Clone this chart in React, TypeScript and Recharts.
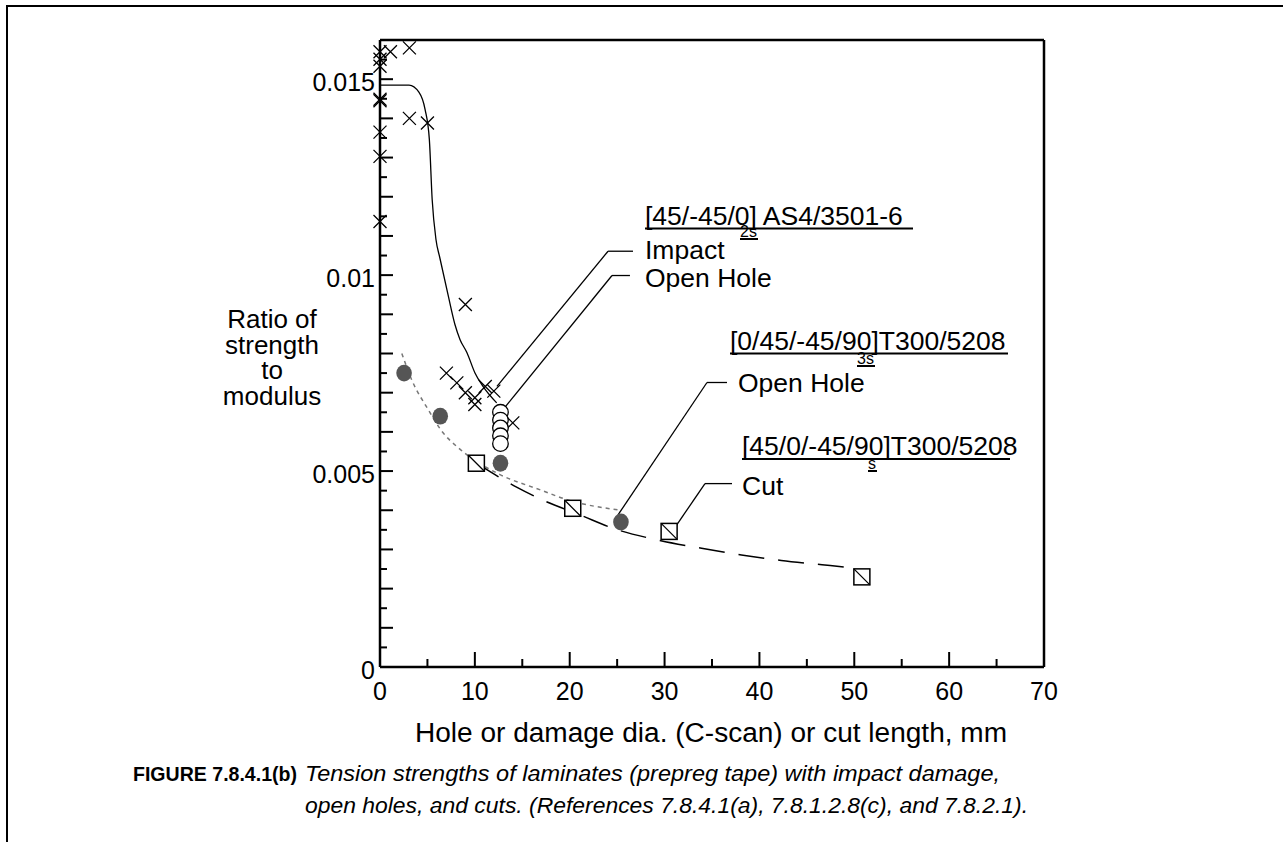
import React from 'react';
import { ComposedChart, Line, Scatter, XAxis, YAxis, ReferenceLine } from 'recharts';

// [45/-45/0]2s AS4/3501-6, impact (x marks)
const IMPACT_X = [0, 1.1, 3.1, 0, 0, 0, 0, 3.1, 5.0, 0, 0, 0, 9.0, 7.0, 8.1, 9.0, 10.0, 10.0, 11.1, 12.0, 14.0];
const IMPACT_Y = [0.0157, 0.0157, 0.0158, 0.01551, 0.01533, 0.01449, 0.01445, 0.014, 0.01388, 0.01365, 0.01303, 0.01137, 0.00925, 0.0075, 0.00725, 0.007, 0.00687, 0.0067, 0.00716, 0.00704, 0.00623];

// [45/-45/0]2s AS4/3501-6, open hole (open circles)
const AS4_HOLE_X = [12.7, 12.7, 12.7, 12.7, 12.7];
const AS4_HOLE_Y = [0.0065, 0.0063, 0.0061, 0.0059, 0.0057];

// [0/45/-45/90]3s T300/5208, open hole (filled circles)
const T300_HOLE_X = [2.54, 6.35, 12.7, 25.4];
const T300_HOLE_Y = [0.0075, 0.0064, 0.0052, 0.0037];

// [45/0/-45/90]s T300/5208, cut (squares)
const CUT_X = [10.16, 20.32, 30.48, 50.8];
const CUT_Y = [0.0052, 0.00405, 0.00346, 0.0023];

// curves
const IMPACT_FIT_X = [0, 3.06, 4.1, 4.75, 5.2, 5.5, 5.9, 6.3, 7.17, 7.9, 8.43, 9.17, 10.0, 10.86, 12.3];
const IMPACT_FIT_Y = [0.01485, 0.01485, 0.01467, 0.01423, 0.01347, 0.01193, 0.01091, 0.01045, 0.0095, 0.00874, 0.00836, 0.00802, 0.00751, 0.00716, 0.00674];

const T300_FIT_X = [2.3, 3.34, 5.0, 6.67, 8.08, 9.14, 12.65, 16.9, 19.7, 25.4];
const T300_FIT_Y = [0.008, 0.00733, 0.0066, 0.00597, 0.00563, 0.00542, 0.00491, 0.00452, 0.00427, 0.004];

const CUT_FIT_X = [10.16, 14.4, 17.05, 21.1, 24.8, 29.5, 33.9, 38.1, 42.3, 46.6, 50.1];
const CUT_FIT_Y = [0.0052, 0.00459, 0.00427, 0.00388, 0.00352, 0.00323, 0.00303, 0.00286, 0.00272, 0.00261, 0.00252];

// axis ticks
const X_TICKS = [0, 5, 10, 15, 20, 25, 30, 35, 40, 45, 50, 55, 60, 65, 70];
const Y_TICKS = [0, 0.0005, 0.001, 0.0015, 0.002, 0.0025, 0.003, 0.0035, 0.004, 0.0045, 0.005, 0.0055, 0.006, 0.0065, 0.007, 0.0075, 0.008, 0.0085, 0.009, 0.0095, 0.01, 0.0105, 0.011, 0.0115, 0.012, 0.0125, 0.013, 0.0135, 0.014, 0.0145, 0.015, 0.0155];
const Y_LABEL_VALUES = [0, 0.005, 0.01, 0.015];
const Y_LABEL_TEXT = ['0', '0.005', '0.01', '0.015'];

// leader lines (data coordinates)
const LEADERS = [
  [{ x: 12.33, y: 0.00716 }, { x: 24.04, y: 0.01061 }, { x: 26.67, y: 0.01061 }],
  [{ x: 12.97, y: 0.00657 }, { x: 24.46, y: 0.00999 }, { x: 26.35, y: 0.00999 }],
  [{ x: 25.09, y: 0.00388 }, { x: 34.47, y: 0.00726 }, { x: 36.58, y: 0.00726 }],
  [{ x: 30.78, y: 0.00345 }, { x: 34.26, y: 0.00468 }, { x: 37.11, y: 0.00468 }],
];

const FONT = "'Liberation Sans', Arial, Helvetica, sans-serif";

const toPoints = (xs: number[], ys: number[]) => xs.map((x, i) => ({ x, y: ys[i] }));

const isMajorX = (v: number) => Math.round(v) % 10 === 0;
const isMajorY = (v: number) => Math.round(v * 10000) % 10 === 0;
const yLabel = (v: number) => {
  const i = Y_LABEL_VALUES.findIndex((l) => Math.abs(l - v) < 1e-9);
  return i >= 0 ? Y_LABEL_TEXT[i] : null;
};

const BottomTick = (p: any) => {
  const v = p.payload.value;
  const major = isMajorX(v);
  return (
    <g>
      <line x1={p.x} y1={p.y} x2={p.x} y2={p.y - (major ? 15 : 8)} stroke="#000" strokeWidth={2} />
      {major && (
        <text x={p.x} y={p.y + 33} textAnchor="middle" fontSize={25} fontFamily={FONT} fill="#000">{v}</text>
      )}
    </g>
  );
};

const TopTick = (p: any) => {
  const major = isMajorX(p.payload.value);
  return <line x1={p.x} y1={p.y} x2={p.x} y2={p.y + (major ? 15 : 8)} stroke="#000" strokeWidth={2} />;
};

const LeftTick = (p: any) => {
  const v = p.payload.value;
  const major = isMajorY(v);
  const label = yLabel(v);
  return (
    <g>
      <line x1={p.x} y1={p.y} x2={p.x + (major ? 13 : 7)} y2={p.y} stroke="#000" strokeWidth={2} />
      {label && (
        <text x={p.x - 5} y={p.y + 12} textAnchor="end" fontSize={25} fontFamily={FONT} fill="#000">{label}</text>
      )}
    </g>
  );
};

const RightTick = (p: any) => {
  const major = isMajorY(p.payload.value);
  return <line x1={p.x} y1={p.y} x2={p.x - (major ? 14 : 7)} y2={p.y} stroke="#000" strokeWidth={2} />;
};

const CrossMark = (p: any) => {
  const s = 6.5;
  return (
    <path
      d={`M${p.cx - s},${p.cy - s}L${p.cx + s},${p.cy + s}M${p.cx - s},${p.cy + s}L${p.cx + s},${p.cy - s}`}
      stroke="#000"
      strokeWidth={1.3}
      fill="none"
    />
  );
};

const OpenCircle = (p: any) => <circle cx={p.cx} cy={p.cy} r={7.8} fill="#fff" stroke="#000" strokeWidth={1.3} />;

const FilledCircle = (p: any) => <ellipse cx={p.cx} cy={p.cy} rx={7.8} ry={8.4} fill="#555" />;

const SlashSquare = (p: any) => {
  const h = 8;
  return (
    <g>
      <rect x={p.cx - h} y={p.cy - h} width={2 * h} height={2 * h} fill="#fff" stroke="#000" strokeWidth={1.5} />
      <line x1={p.cx - h} y1={p.cy - h} x2={p.cx + h} y2={p.cy + h} stroke="#000" strokeWidth={1.3} />
    </g>
  );
};

const W = 1283;
const H = 842;
const AXIS_W = 60;
const AXIS_H = 30;

export default function App() {
  return (
    <div style={{ position: 'absolute', left: 0, top: 0, width: W, height: H, overflow: 'hidden', background: '#fff' }}>
      <div
        style={{
          position: 'absolute',
          left: 6,
          top: 5,
          width: W,
          height: H,
          borderTop: '2.5px solid #000',
          borderLeft: '2.5px solid #000',
        }}
      />
      <ComposedChart
        width={W}
        height={H}
        margin={{ top: 40 - AXIS_H, left: 380 - AXIS_W, right: W - 1044 - AXIS_W, bottom: H - 667 - AXIS_H }}
        style={{ position: 'absolute', left: 0, top: 0 }}
      >
        <XAxis
          xAxisId="b"
          dataKey="x"
          type="number"
          domain={[0, 70]}
          ticks={X_TICKS}
          interval={0}
          height={AXIS_H}
          tickSize={0}
          tickMargin={0}
          tickLine={false}
          tick={BottomTick}
          axisLine={{ stroke: '#000', strokeWidth: 2.5 }}
        />
        <XAxis
          xAxisId="t"
          orientation="top"
          dataKey="x"
          type="number"
          domain={[0, 70]}
          ticks={X_TICKS}
          interval={0}
          height={AXIS_H}
          tickSize={0}
          tickMargin={0}
          tickLine={false}
          tick={TopTick}
          axisLine={{ stroke: '#000', strokeWidth: 2.5 }}
        />
        <YAxis
          yAxisId="l"
          dataKey="y"
          type="number"
          domain={[0, 0.016]}
          ticks={Y_TICKS}
          interval={0}
          width={AXIS_W}
          tickSize={0}
          tickMargin={0}
          tickLine={false}
          tick={LeftTick}
          axisLine={{ stroke: '#000', strokeWidth: 2.5 }}
        />
        <YAxis
          yAxisId="r"
          orientation="right"
          dataKey="y"
          type="number"
          domain={[0, 0.016]}
          ticks={Y_TICKS}
          interval={0}
          width={AXIS_W}
          tickSize={0}
          tickMargin={0}
          tickLine={false}
          tick={RightTick}
          axisLine={{ stroke: '#000', strokeWidth: 2.5 }}
        />

        <Line
          xAxisId="b"
          yAxisId="l"
          data={toPoints(IMPACT_FIT_X, IMPACT_FIT_Y)}
          dataKey="y"
          type="monotone"
          stroke="#000"
          strokeWidth={1.3}
          dot={false}
          activeDot={false}
          isAnimationActive={false}
        />
        <Line
          xAxisId="b"
          yAxisId="l"
          data={toPoints(T300_FIT_X, T300_FIT_Y)}
          dataKey="y"
          type="monotone"
          stroke="#777"
          strokeWidth={1.5}
          strokeDasharray="4 4"
          dot={false}
          activeDot={false}
          isAnimationActive={false}
        />
        <Line
          xAxisId="b"
          yAxisId="l"
          data={toPoints(CUT_FIT_X, CUT_FIT_Y)}
          dataKey="y"
          type="monotone"
          stroke="#000"
          strokeWidth={1.5}
          strokeDasharray="26 14"
          dot={false}
          activeDot={false}
          isAnimationActive={false}
        />

        {LEADERS.map((pts, i) => (
          <React.Fragment key={i}>
            <ReferenceLine xAxisId="b" yAxisId="l" segment={[pts[0], pts[1]]} stroke="#000" strokeWidth={1.3} />
            <ReferenceLine xAxisId="b" yAxisId="l" segment={[pts[1], pts[2]]} stroke="#000" strokeWidth={1.3} />
          </React.Fragment>
        ))}

        <Scatter xAxisId="b" yAxisId="l" data={toPoints(IMPACT_X, IMPACT_Y)} shape={CrossMark} isAnimationActive={false} />
        <Scatter xAxisId="b" yAxisId="l" data={toPoints(T300_HOLE_X, T300_HOLE_Y)} shape={FilledCircle} isAnimationActive={false} />
        <Scatter xAxisId="b" yAxisId="l" data={toPoints(CUT_X, CUT_Y)} shape={SlashSquare} isAnimationActive={false} />
        <Scatter xAxisId="b" yAxisId="l" data={toPoints(AS4_HOLE_X, AS4_HOLE_Y)} shape={OpenCircle} isAnimationActive={false} />
      </ComposedChart>

      <svg width={W} height={H} style={{ position: 'absolute', left: 0, top: 0, pointerEvents: 'none' }} fontFamily={FONT}>
        {/* y axis title */}
        <g fontSize={26} textAnchor="middle" fill="#000">
          <text x={272} y={328}>Ratio of</text>
          <text x={272} y={353.5}>strength</text>
          <text x={272} y={379}>to</text>
          <text x={272} y={404.5}>modulus</text>
        </g>

        {/* annotations */}
        <g fontSize={26.5} fill="#000">
          <text x={645} y={225}>[45/-45/0] AS4/3501-6</text>
          <text x={740} y={237} fontSize={16}>2s</text>
          <text x={645} y={259}>Impact</text>
          <text x={645} y={287}>Open Hole</text>

          <text x={730} y={350}>[0/45/-45/90]T300/5208</text>
          <text x={857} y={364} fontSize={16}>3s</text>
          <text x={738} y={392}>Open Hole</text>

          <text x={742} y={455}>[45/0/-45/90]T300/5208</text>
          <text x={868} y={469} fontSize={16}>s</text>
          <text x={742} y={495}>Cut</text>
        </g>
        <g stroke="#000" strokeWidth={2}>
          <line x1={645} y1={228.5} x2={913} y2={228.5} />
          <line x1={740} y1={239} x2={758} y2={239} />
          <line x1={730} y1={353.5} x2={1008} y2={353.5} />
          <line x1={857} y1={366} x2={875} y2={366} />
          <line x1={742} y1={459} x2={1010} y2={459} />
          <line x1={868} y1={471} x2={877} y2={471} />
        </g>

        {/* x axis title */}
        <text x={711} y={742} fontSize={27} textAnchor="middle" textLength={592} lengthAdjust="spacingAndGlyphs" fill="#000">
          Hole or damage dia. (C-scan) or cut length, mm
        </text>

        {/* caption */}
        <text x={133} y={781} fontSize={21} fontWeight="bold" textLength={164} lengthAdjust="spacingAndGlyphs" fill="#000">
          FIGURE 7.8.4.1(b)
        </text>
        <g fontSize={22} fontStyle="italic" fill="#000">
          <text x={305} y={781} textLength={695} lengthAdjust="spacingAndGlyphs">
            Tension strengths of laminates (prepreg tape) with impact damage,
          </text>
          <text x={305} y={813} textLength={723} lengthAdjust="spacingAndGlyphs">
            open holes, and cuts. (References 7.8.4.1(a), 7.8.1.2.8(c), and 7.8.2.1).
          </text>
        </g>
      </svg>
    </div>
  );
}
